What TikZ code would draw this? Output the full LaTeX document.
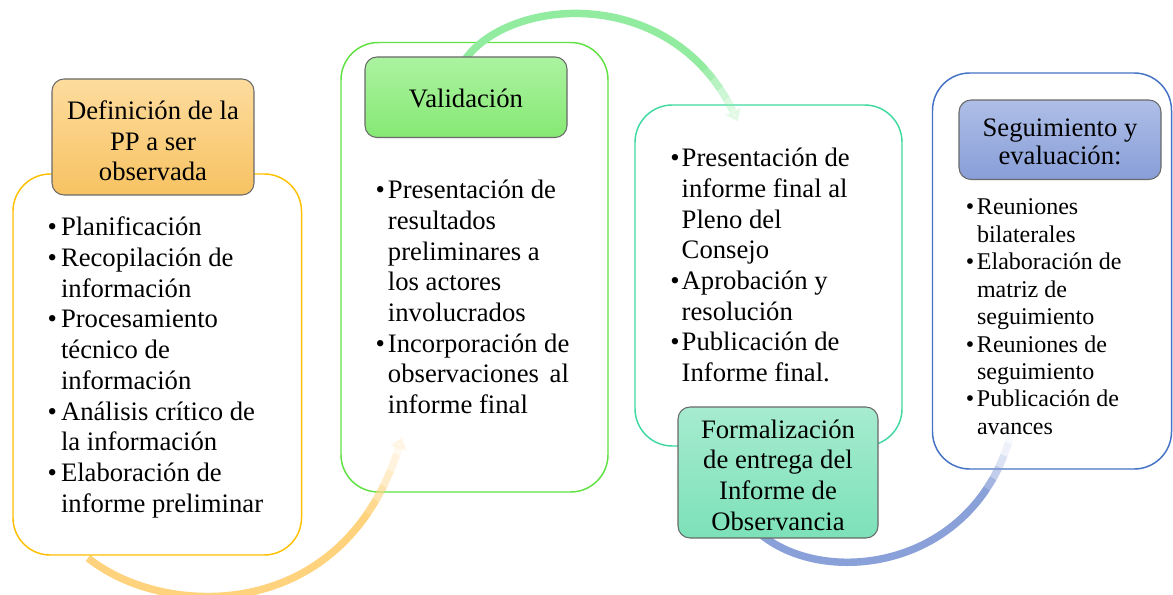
\documentclass[tikz,border=0pt]{standalone}
\usepackage{fontspec}
\setmainfont{Liberation Serif}
\usetikzlibrary{arrows.meta}

\definecolor{bO}{RGB}{255,192,0}
\definecolor{bG}{RGB}{96,226,66}
\definecolor{bT}{RGB}{64,218,160}
\definecolor{bB}{RGB}{68,114,196}
\definecolor{tg}{RGB}{105,105,105}
\definecolor{t1a}{RGB}{253,220,158}
\definecolor{t1b}{RGB}{247,194,98}
\definecolor{t2a}{RGB}{171,243,160}
\definecolor{t2b}{RGB}{134,233,116}
\definecolor{t3a}{RGB}{166,235,208}
\definecolor{t3b}{RGB}{124,225,184}
\definecolor{t4a}{RGB}{174,190,231}
\definecolor{t4b}{RGB}{136,158,215}
\definecolor{aO}{RGB}{255,211,125}
\definecolor{aG}{RGB}{145,236,160}
\definecolor{aB}{RGB}{138,160,216}

\newlength\bind
\newcommand\bul[1]{\hbox{\makebox[\bind][l]{•}#1}}
\newcommand\cnt[1]{\hbox{\hspace*{\bind}#1}}
\newcommand\itemstack[2]{\vtop{\baselineskip=#1\relax\lineskiplimit=-100pt\lineskip=0pt #2}}

\begin{document}
\begin{tikzpicture}[x=0.75pt,y=-0.75pt,
  obox/.style={draw=#1, line width=1.1pt, fill=white, rounded corners=28pt, inner sep=0pt, outer sep=0pt},
  tbox/.style 2 args={draw=tg, line width=0.8pt, rounded corners=9pt, top color=#1, bottom color=#2, inner sep=0pt, outer sep=0pt},
  ttext/.style={inner sep=0pt, outer sep=0pt, align=center, font=\fontsize{20pt}{23pt}\selectfont},
  arcline/.style={line width=5.6pt, draw=#1, line cap=butt},
  tiphead/.style={-{Triangle[width=13pt,length=9pt]}},
  lst/.style={anchor=base west, inner sep=0pt, outer sep=0pt}
]
\useasboundingbox (0,0) rectangle (1173,595);
\fill[white] (0,0) rectangle (1173,595);

% outer boxes 2-4 (arcs pass over them)
\node[obox=bG, minimum width=200.25pt, minimum height=337.1pt] (b2) at (474.5,267.25) {};
\node[obox=bT, minimum width=200.25pt, minimum height=255.75pt] (b3) at (768.5,275.5) {};
\node[obox=bB, minimum width=179.25pt, minimum height=297pt] (b4) at (1052,271) {};

% orange arc (fading tail)
\coordinate (o0) at (88,558);
\coordinate (o1) at (367.8,513.0);
\coordinate (o2) at (376.0,500.0);
\coordinate (o3) at (383.6,485.9);
\coordinate (o4) at (390.5,470.7);
\coordinate (o5) at (396.6,454.5);
\coordinate (o6) at (402,437);
\draw[arcline=aO] (o0) .. controls (152.7,610.1) and (293.6,621.9) .. (o1);
\draw[arcline=aO, draw opacity=0.85] (o1) -- (o2);
\draw[arcline=aO, draw opacity=0.62] (o2) -- (o3);
\draw[arcline=aO, draw opacity=0.42] (o3) -- (o4);
\draw[arcline=aO, draw opacity=0.26] (o4) -- (o5);
\draw[arcline=aO, tiphead, draw opacity=0.13, fill opacity=0.13] (o5) -- (o6);

% green arc (fading tail)
\coordinate (g0) at (459,67.3);
\coordinate (gA) at (467,57);
\coordinate (g1) at (705.4,69.9);
\coordinate (g2) at (712.9,78.8);
\coordinate (g3) at (719.9,88.5);
\coordinate (g4) at (726.5,98.9);
\coordinate (g5) at (732.5,110.1);
\coordinate (g6) at (738,122);
\draw[arcline=aG] (g0) -- (gA) .. controls (507.8,4.3) and (633.1,-10.8) .. (g1);
\draw[arcline=aG, draw opacity=0.85] (g1) -- (g2);
\draw[arcline=aG, draw opacity=0.65] (g2) -- (g3);
\draw[arcline=aG, draw opacity=0.45] (g3) -- (g4);
\draw[arcline=aG, draw opacity=0.3] (g4) -- (g5);
\draw[arcline=aG, tiphead, draw opacity=0.16, fill opacity=0.16] (g5) -- (g6);

% blue arc (fading tail)
\coordinate (u0) at (745,518);
\coordinate (u1) at (986.9,488.4);
\coordinate (u2) at (993.2,478.2);
\coordinate (u3) at (998.9,467.2);
\coordinate (u4) at (1003.9,455.5);
\coordinate (u5) at (1008.3,443.1);
\coordinate (u6) at (1012,430);
\draw[arcline=aB] (u0) .. controls (791.8,580.9) and (925.2,581.7) .. (u1);
\draw[arcline=aB, draw opacity=0.78] (u1) -- (u2);
\draw[arcline=aB, draw opacity=0.52] (u2) -- (u3);
\draw[arcline=aB, draw opacity=0.3] (u3) -- (u4);
\draw[arcline=aB, draw opacity=0.14] (u4) -- (u5);
\draw[arcline=aB, draw opacity=0.05] (u5) -- (u6);

% outer box 1 (hides start of orange arc)
\node[obox=bO, minimum width=216.4pt, minimum height=285.75pt] (b1) at (157.25,364.5) {};

% title boxes
\node[tbox={t1a}{t1b}, minimum width=151.5pt, minimum height=87pt] (t1) at (153,137) {};
\node[ttext] (t1x) at (153,141) {Definición de la\\PP a ser\\observada};
\node[tbox={t2a}{t2b}, minimum width=151.5pt, minimum height=60.4pt] (t2) at (466,97.25) {};
\node[ttext] (t2x) at (466,98.5) {Validación};
\node[tbox={t3a}{t3b}, minimum width=150pt, minimum height=98.25pt] (t3) at (778,472.5) {};
\node[ttext] (t3x) at (778,475) {Formalización\\de entrega del\\Informe de\\Observancia};
\node[tbox={t4a}{t4b}, minimum width=151.5pt, minimum height=59.6pt] (t4) at (1060,139.75) {};
\node[ttext, font=\fontsize{20pt}{21pt}\selectfont] (t4x) at (1060,141.75) {Seguimiento y\\evaluación:};

% bullet lists
\node[lst, font=\fontsize{20pt}{23pt}\selectfont] (l1) at (47.7,236) {\setlength\bind{10pt}\itemstack{23pt}{%
  \bul{Planificación}\bul{Recopilación de}\cnt{información}\bul{Procesamiento}\cnt{técnico de}\cnt{información}%
  \bul{Análisis crítico de}\cnt{la información}\bul{Elaboración de}\cnt{informe preliminar}}};
\node[lst, font=\fontsize{20pt}{23pt}\selectfont] (l2) at (375.7,199) {\setlength\bind{9.2pt}\itemstack{23pt}{%
  \bul{Presentación de}\cnt{resultados}\cnt{preliminares a}\cnt{los actores}\cnt{involucrados}%
  \bul{Incorporación de}\cnt{observaciones\hspace{3pt} al}\cnt{informe final}}};
\node[lst, font=\fontsize{20pt}{23pt}\selectfont] (l3) at (670.4,167) {\setlength\bind{8.5pt}\itemstack{23pt}{%
  \bul{Presentación de}\cnt{informe final al}\cnt{Pleno del}\cnt{Consejo}%
  \bul{Aprobación y}\cnt{resolución}\bul{Publicación de}\cnt{Informe final.}}};
\node[lst, font=\fontsize{18pt}{20.6pt}\selectfont] (l4) at (965.8,214.7) {\setlength\bind{8.4pt}\itemstack{20.6pt}{%
  \bul{Reuniones}\cnt{bilaterales}\bul{Elaboración de}\cnt{matriz de}\cnt{seguimiento}%
  \bul{Reuniones de}\cnt{seguimiento}\bul{Publicación de}\cnt{avances}}};
\end{tikzpicture}
\end{document}
